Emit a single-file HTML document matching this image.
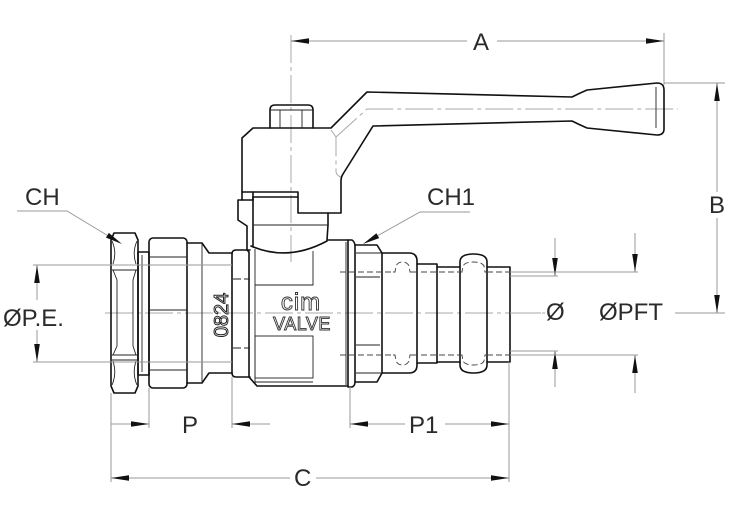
<!DOCTYPE html>
<html>
<head>
<meta charset="utf-8">
<style>
  html,body{margin:0;padding:0;background:#fff;}
  svg{display:block;}
  .o{fill:none;stroke:#111;stroke-width:1.6;stroke-linejoin:round;stroke-linecap:round;}
  .t{fill:none;stroke:#222;stroke-width:0.9;}
  .d{fill:none;stroke:#9a9a9a;stroke-width:1;}
  .h{fill:none;stroke:#444;stroke-width:0.9;stroke-dasharray:6,3;}
  .c{fill:none;stroke:#a8a8a8;stroke-width:1;stroke-dasharray:28,4,4,4;}
  .a{fill:#111;stroke:none;}
  .lbl{font-family:"Liberation Sans",sans-serif;font-size:24px;fill:#2a2a2a;}
</style>
</head>
<body>
<svg width="730" height="516" viewBox="0 0 730 516" xmlns="http://www.w3.org/2000/svg">

<!-- center lines -->
<line class="c" x1="105" y1="313" x2="545" y2="313"/>
<line class="c" x1="291" y1="35" x2="291" y2="262"/>
<path class="c" d="M331,130 L336,137 L336,172 Q337,176 341,177 M336,137 L367,109 L678,109"/>

<!-- ===== Handle ===== -->
<path class="o" d="M242,192 L242,138 L253,128 L331,128 L367,92 L572,97 Q580,93 587,90 L657,83 Q664,83 664,90 L664,129 Q664,135 657,135 L587,128 Q580,125 572,121 L373,126 L343,174 Q341,177 341,181 L341,213 L298,213 L298,192 Z"/>
<line class="t" x1="656" y1="87" x2="656" y2="128"/>
<!-- top nut -->
<path class="o" d="M270,128 L270,110 Q270,105 275,105 L308,105 Q313,105 313,110 L313,128"/>
<line class="t" x1="270" y1="110" x2="313" y2="110"/>
<line class="t" x1="280" y1="110" x2="280" y2="128"/>
<line class="t" x1="302" y1="110" x2="302" y2="128"/>
<!-- under block -->
<path class="o" d="M242,192 L242,200 L253,200 L253,192"/>
<line class="o" x1="253" y1="197" x2="298" y2="197"/>
<path class="o" d="M242,200 L238,200 L238,220 L247,226 L247,250"/>
<line class="o" x1="253" y1="197" x2="253" y2="247"/>
<path class="o" d="M328,213 L328,225 L327,240 L348,240"/>
<line class="t" x1="253" y1="225" x2="328" y2="225"/>
<path class="o" d="M251,246 Q288,262 327,241"/>

<!-- ===== Left hex nut (CH) ===== -->
<path class="o" d="M114,233 L135,233 L138,240 L138,386 L135,393 L114,393 L111,386 L111,240 Z"/>
<line class="t" x1="112" y1="265" x2="137" y2="265"/>
<line class="t" x1="112" y1="270" x2="137" y2="270"/>
<line class="t" x1="112" y1="355" x2="137" y2="355"/>
<line class="t" x1="112" y1="360" x2="137" y2="360"/>
<path class="t" d="M113,270 L117,280 L117,346 L113,355 M136,270 L133,280 L133,346 L136,355"/>
<path class="t" d="M112,241 Q117,252 113,264 M137,241 Q132,252 136,264 M112,385 Q117,374 113,361 M137,385 Q132,374 136,361"/>

<!-- ring -->
<rect class="o" x="138" y="252" width="11" height="123"/>
<line class="t" x1="142" y1="255" x2="142" y2="372"/>

<!-- union nut -->
<rect class="o" x="149" y="238" width="38" height="150" rx="4"/>
<line class="t" x1="150" y1="257" x2="187" y2="257"/>
<line class="t" x1="150" y1="310" x2="187" y2="310"/>
<line class="t" x1="150" y1="370" x2="187" y2="370"/>

<!-- tail piece -->
<path class="o" d="M187,243 L202,243 L209,253 L232,253 M187,383 L202,383 L209,373 L232,373"/>
<line class="t" x1="202" y1="243" x2="202" y2="383"/>
<text x="0" y="0" transform="translate(228,315) rotate(-90)" text-anchor="middle" font-family="Liberation Sans, sans-serif" font-size="20" fill="#fff" stroke="#222" stroke-width="1">0824</text>

<!-- ===== Body ===== -->
<path class="o" d="M250,250 L236,250 Q232,250 232,254 L232,373 Q232,377 236,377 L250,377"/>
<path class="o" d="M247,250 L249,252 L249,377 L257,386 L348,386 L348,240"/>
<line class="t" x1="346" y1="242" x2="346" y2="385"/>
<path class="t" d="M255,249 L255,383 M255,285 L313,285 L313,251"/>
<rect class="t" x="255" y="336" width="58" height="42"/>
<line class="t" x1="255" y1="382" x2="313" y2="382"/>
<path class="t" d="M233,279 L241,279 M244,279 L250,279 M233,348 L241,348 M244,348 L250,348"/>
<text x="301" y="310" text-anchor="middle" font-family="Liberation Sans, sans-serif" font-size="24" fill="#fff" stroke="#333" stroke-width="0.9" letter-spacing="1">cim</text>
<text x="302" y="330" text-anchor="middle" font-family="Liberation Sans, sans-serif" font-size="18" fill="#fff" stroke="#333" stroke-width="0.9" letter-spacing="0.5">VALVE</text>

<!-- right ring -->
<path class="o" d="M348,240 L352,240 Q355,242 355,246 L355,382 Q355,386 352,387 L348,387"/>

<!-- CH1 nut -->
<path class="o" d="M355,245 L377,245 L382,253 L382,373 L377,382 L355,382"/>
<line class="t" x1="356" y1="253" x2="381" y2="253"/>
<line class="t" x1="356" y1="277" x2="380" y2="277"/>
<line class="t" x1="356" y1="345" x2="380" y2="345"/>
<line class="t" x1="356" y1="373" x2="381" y2="373"/>

<!-- press sleeve -->
<path class="o" d="M382,253 L409,253 Q417,253 417,261 L417,365 Q417,373 409,373 L382,373"/>
<path class="o" d="M417,264 L437,264 L437,363 L417,363"/>
<path class="o" d="M437,267 L460,267 M487,267 L510,267 L510,362 L487,362 M460,362 L437,362"/>
<path class="o" d="M460,365 L460,262 Q460,254 473.5,254 Q487,254 487,262 L487,365 Q487,373 473.5,373 Q460,373 460,365 Z"/>
<!-- hidden lines -->
<path class="h" d="M340,272 L393,272 M412,272 L460,272 M487,272 L510,272"/>
<path class="h" d="M340,355 L393,355 M412,355 L460,355 M487,355 L510,355"/>
<path class="h" d="M393,272 L395,272 L396,266 Q398,262 402.5,262 Q407,262 409,266 L410,272 L412,272"/>
<path class="h" d="M393,355 L395,355 L396,361 Q398,365 402.5,365 Q407,365 409,361 L410,355 L412,355"/>
<path class="h" d="M460,272 L462,272 L463,266 Q465,262 473.5,262 Q482,262 484,266 L485,272 L487,272"/>
<path class="h" d="M460,355 L462,355 L463,361 Q465,365 473.5,365 Q482,365 484,361 L485,355 L487,355"/>

<!-- ===== Dimensions ===== -->
<!-- A -->
<path class="d" d="M291,41 L467,41 M497,41 L664,41 M664,33 L664,85"/>
<polygon class="a" points="291,41 309,38.2 309,43.8"/>
<polygon class="a" points="664,41 646,38.2 646,43.8"/>
<text class="lbl" x="473" y="50">A</text>

<!-- B -->
<path class="d" d="M717,83 L717,192 M717,218 L717,313 M664,83 L725,83 M675,313 L725,313"/>
<polygon class="a" points="717,83 714.2,101 719.8,101"/>
<polygon class="a" points="717,313 714.2,295 719.8,295"/>
<text class="lbl" x="709" y="213">B</text>

<!-- CH leader -->
<path class="d" d="M17,211 L67,211 L110,237"/>
<polygon class="a" points="122,244 105.96,237.65 108.84,232.85"/>
<text class="lbl" x="25" y="205">CH</text>

<!-- CH1 leader -->
<path class="d" d="M470,212 L420,212 L377,236"/>
<polygon class="a" points="363,244 376.4,233.3 379.2,238.1"/>
<text class="lbl" x="427" y="205">CH1</text>

<!-- ØP.E. -->
<path class="d" d="M37,265 L37,300 M37,330 L37,362 M33,265 L232,265 M33,362 L232,362"/>
<polygon class="a" points="37,265 34.2,283 39.8,283"/>
<polygon class="a" points="37,362 34.2,344 39.8,344"/>
<text class="lbl" x="3" y="326">ØP.E.</text>

<!-- Ø -->
<path class="d" d="M555,238 L555,276 M555,351 L555,387 M510,276 L558,276 M510,351 L558,351"/>
<polygon class="a" points="555,276 552.2,258 557.8,258"/>
<polygon class="a" points="555,351 552.2,369 557.8,369"/>
<text class="lbl" x="546" y="320">Ø</text>

<!-- ØPFT -->
<path class="d" d="M635,233 L635,272 M635,355 L635,393 M510,272 L638,272 M510,355 L638,355"/>
<polygon class="a" points="635,272 632.2,254 637.8,254"/>
<polygon class="a" points="635,355 632.2,373 637.8,373"/>
<text class="lbl" x="599" y="320">ØPFT</text>
<line class="c" x1="510" y1="313" x2="545" y2="313"/>

<!-- extension lines bottom -->
<path class="d" d="M111,393 L111,482 M149,388 L149,428 M232,377 L232,428 M350,387 L350,428 M509,362 L509,482"/>

<!-- P -->
<path class="d" d="M111,424 L149,424 M232,424 L270,424"/>
<polygon class="a" points="149,424 131,421.2 131,426.8"/>
<polygon class="a" points="232,424 250,421.2 250,426.8"/>
<text class="lbl" x="182" y="433">P</text>

<!-- P1 -->
<path class="d" d="M350,424 L405,424 M445,424 L509,424"/>
<polygon class="a" points="350,424 368,421.2 368,426.8"/>
<polygon class="a" points="509,424 491,421.2 491,426.8"/>
<text class="lbl" x="409" y="433">P1</text>

<!-- C -->
<path class="d" d="M111,478 L290,478 M316,478 L509,478"/>
<polygon class="a" points="111,478 129,475.2 129,480.8"/>
<polygon class="a" points="509,478 491,475.2 491,480.8"/>
<text class="lbl" x="294" y="486">C</text>

</svg>
</body>
</html>
